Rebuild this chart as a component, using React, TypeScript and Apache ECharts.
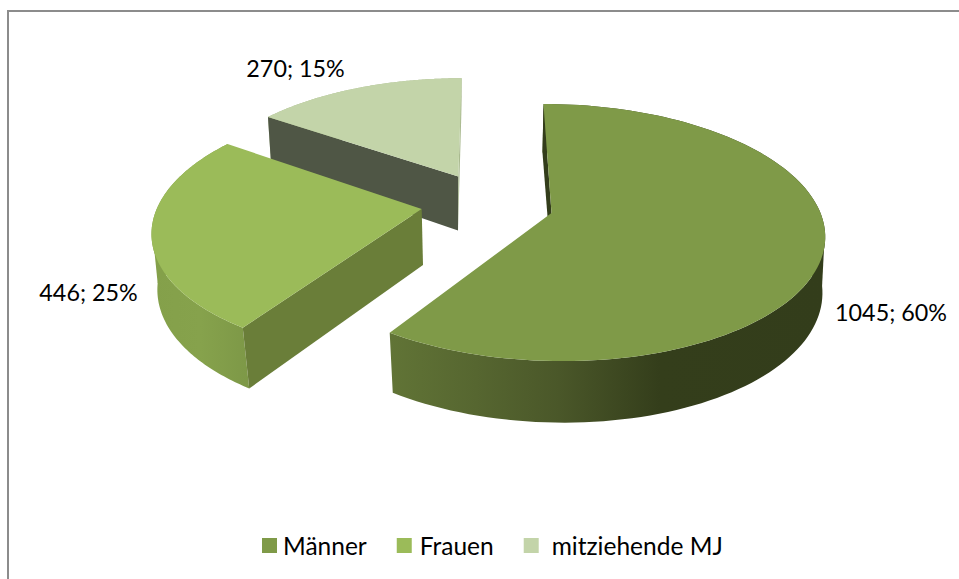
import React, { useEffect, useRef } from "react";
import * as echarts from "echarts";

const categories = ["Männer", "Frauen", "mitziehende MJ"];
const values = [1045, 446, 270];
const shownPercents = [60, 25, 15];

const topColors = ["#7F9A48", "#9BBB59", "#C3D4A9"];
const FONT = "Lato";

// Perspective frame of each exploded slice (top plane, then bottom plane).
const frames = [
  { ax: 551.5, ay: 213, A: 269, B: 125.6, k: 0.152, s: -9.2, dx: 0, D: 54, A2: 266, B2: 132, s2: -10.4 },
  { ax: 421.7, ay: 209, A: 265, B: 124, k: 0.156, s: 10.7, dx: 1.3, D: 56, A2: 261, B2: 129, s2: 8 },
  { ax: 458.3, ay: 176.5, A: 255, B: 113.5, k: 0.155, s: 3.9, dx: -0.3, D: 54, A2: 250, B2: 122, s2: 3.5 },
];
const wallFlags = [
  { start: true, end: false },
  { start: true, end: false },
  { start: true, end: true },
];
const wallColors = [
  { start: "#333D1B", end: "#333D1B" },
  { start: "#6A7E39", end: "#6A7E39" },
  { start: "#4F5645", end: "#A9B98F" },
];
const rimStops = [
  [
    { offset: 0, color: "#617436" },
    { offset: 0.2, color: "#566630" },
    { offset: 0.39, color: "#4A5729" },
    { offset: 0.62, color: "#343E1B" },
    { offset: 1, color: "#333D1B" },
  ],
  [
    { offset: 0, color: "#84A04A" },
    { offset: 0.5, color: "#86A24C" },
    { offset: 1, color: "#7D9847" },
  ],
  [
    { offset: 0, color: "#A9B98F" },
    { offset: 1, color: "#A9B98F" },
  ],
];
// Silhouette tangent between top and bottom rim, where the side of the disc turns away.
const silhouettes = [
  { angle: 98, inward: -30, color: "#333D1B" },
  { angle: 262, inward: 30, color: "#84A04A" },
  null,
];
const labelSpots = [
  { x: 891, y: 312 },
  { x: 88.5, y: 292 },
  { x: 295.5, y: 67.5 },
];
const legendTextGaps = [1, 3, 8];

type Frame = (typeof frames)[number];

function topPoint(f: Frame, deg: number): number[] {
  const r = (deg * Math.PI) / 180;
  const u = Math.sin(r);
  const v = Math.cos(r);
  const w = 1 + f.k * v;
  return [f.ax + (f.A * u + f.s * v) / w, f.ay - (f.B * v) / w];
}
function bottomPoint(f: Frame, deg: number): number[] {
  const r = (deg * Math.PI) / 180;
  const u = Math.sin(r);
  const v = Math.cos(r);
  const w = 1 + f.k * v;
  return [f.ax + f.dx + (f.A2 * u + f.s2 * v) / w, f.ay + f.D - (f.B2 * v) / w];
}

const total = values.reduce((a, b) => a + b, 0);

function sliceAngles(index: number): [number, number] {
  let before = 0;
  for (let i = 0; i < index; i++) before += values[i];
  return [(before / total) * 360, ((before + values[index]) / total) * 360];
}

function makeRenderItem(index: number) {
  return (_params: any, api: any) => {
    const f = frames[index];
    const [a0, a1] = sliceAngles(index);
    const steps = 120;
    const topArc: number[][] = [];
    const bottomArc: number[][] = [];
    for (let i = 0; i <= steps; i++) {
      const d = a0 + ((a1 - a0) * i) / steps;
      topArc.push(topPoint(f, d));
      bottomArc.push(bottomPoint(f, d));
    }
    const apex = [f.ax, f.ay];
    const apexLow = [f.ax + f.dx, f.ay + f.D];
    const children: any[] = [];
    children.push({
      type: "polygon",
      shape: { points: [...topArc, ...bottomArc.slice().reverse()] },
      style: { fill: new echarts.graphic.LinearGradient(0, 0, 1, 0, rimStops[index]) },
    });
    const sil = silhouettes[index];
    if (sil) {
      const t = topPoint(f, sil.angle);
      const b = bottomPoint(f, sil.angle);
      children.push({
        type: "polygon",
        shape: { points: [t, b, [(t[0] + b[0]) / 2 + sil.inward, (t[1] + b[1]) / 2]] },
        style: { fill: sil.color },
      });
    }
    if (wallFlags[index].start) {
      children.push({
        type: "polygon",
        shape: { points: [topArc[0], apex, apexLow, bottomArc[0]] },
        style: { fill: wallColors[index].start },
      });
    }
    if (wallFlags[index].end) {
      children.push({
        type: "polygon",
        shape: { points: [topArc[steps], apex, apexLow, bottomArc[steps]] },
        style: { fill: wallColors[index].end },
      });
    }
    children.push({
      type: "polygon",
      shape: { points: [apex, ...topArc] },
      style: { fill: topColors[index] },
    });
    children.push({
      type: "text",
      x: labelSpots[index].x,
      y: labelSpots[index].y,
      style: {
        text: `${api.value(0)}; ${shownPercents[index]}%`,
        fontFamily: FONT,
        fontSize: 23.3,
        fill: "#000000",
        align: "center",
        verticalAlign: "middle",
      },
    });
    return { type: "group", children };
  };
}

export default function App() {
  const ref = useRef<HTMLDivElement>(null);
  useEffect(() => {
    const chart = echarts.init(ref.current as HTMLDivElement, undefined, { renderer: "svg" });
    chart.setOption({
      animation: false,
      backgroundColor: "#FFFFFF",
      legend: {
        left: 262,
        top: 533,
        padding: 0,
        itemWidth: 15,
        itemHeight: 15,
        itemGap: 30,
        icon: "rect",
        data: categories.map((name, i) => ({
          name,
          itemStyle: { color: topColors[i] },
          textStyle: { padding: [0, 0, 0, legendTextGaps[i]] },
        })),
        textStyle: { fontFamily: FONT, fontSize: 24.5, color: "#000000" },
      },
      graphic: [
        { type: "line", shape: { x1: 8, y1: 10, x2: 8, y2: 579 }, style: { stroke: "#8C8C8C", lineWidth: 2 } },
        { type: "line", shape: { x1: 7, y1: 11, x2: 959, y2: 11 }, style: { stroke: "#8C8C8C", lineWidth: 2 } },
      ],
      series: categories.map((name, i) => ({
        type: "custom",
        name,
        coordinateSystem: "none",
        z: 3 - i,
        silent: true,
        itemStyle: { color: topColors[i] },
        data: [[values[i]]],
        renderItem: makeRenderItem(i),
      })),
    });
    return () => chart.dispose();
  }, []);
  return <div ref={ref} style={{ position: "fixed", left: 0, top: 0, width: 959, height: 579 }} />;
}
